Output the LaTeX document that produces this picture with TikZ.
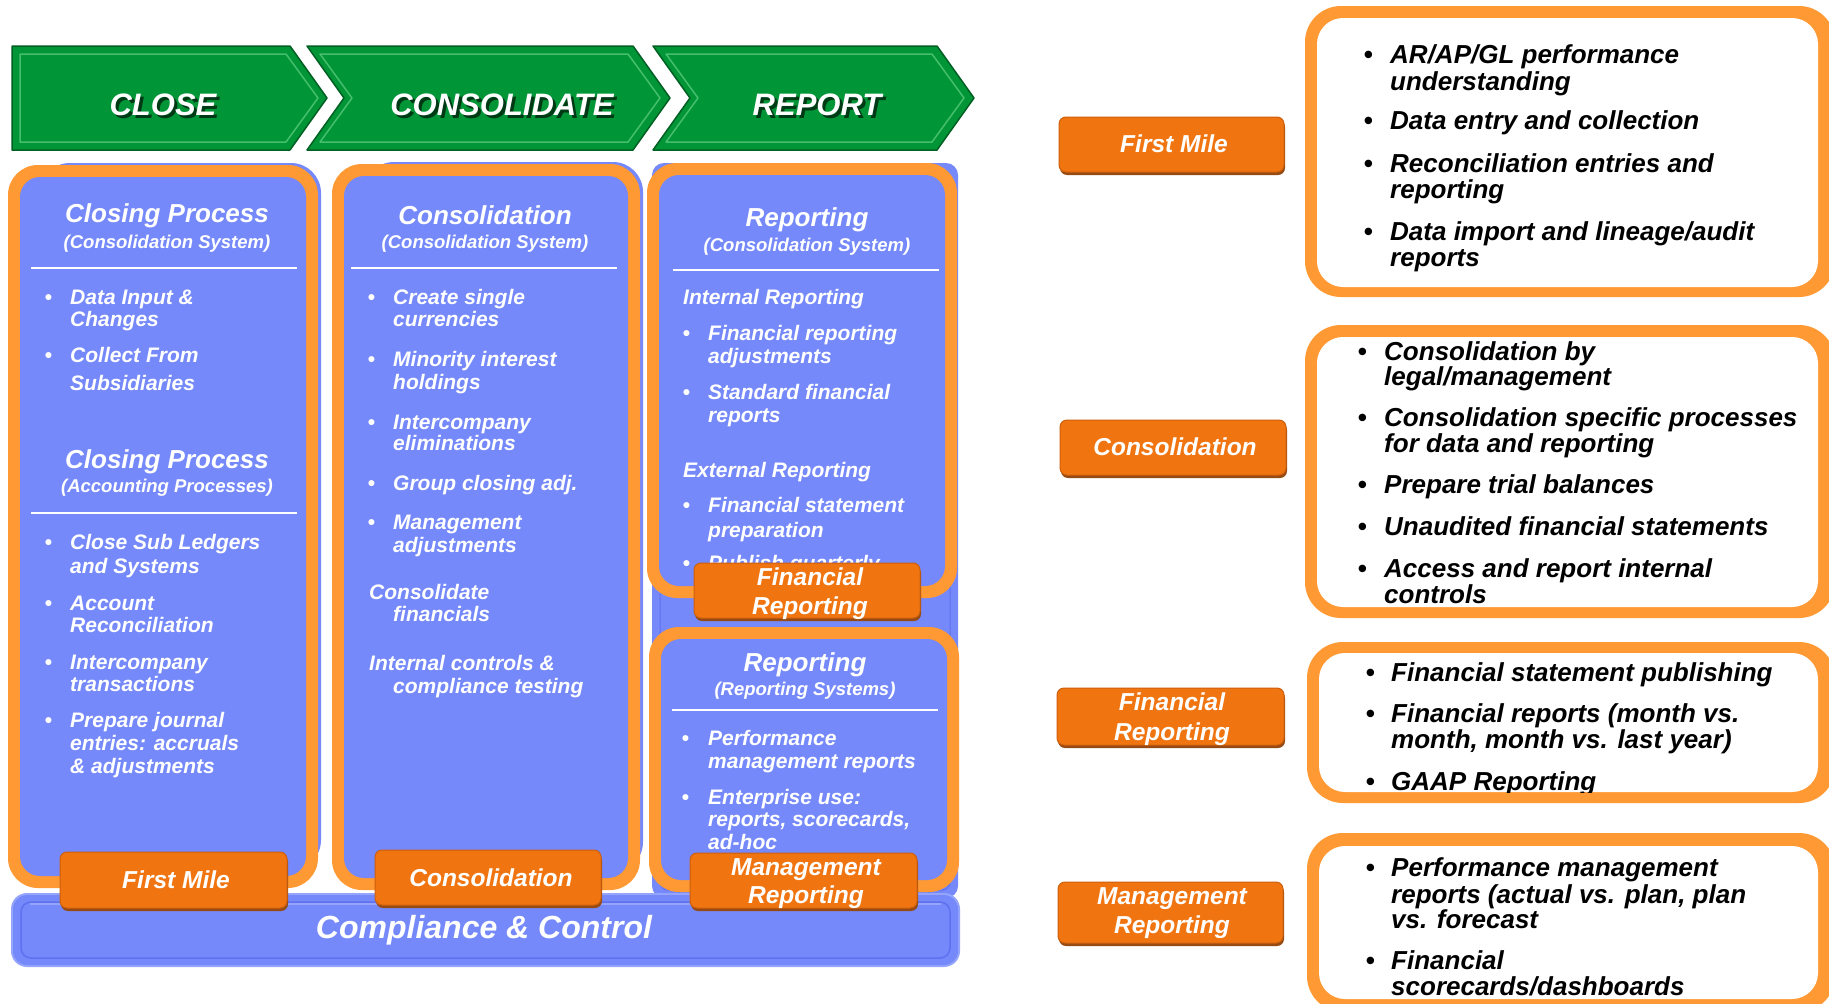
\documentclass[tikz,border=0pt]{standalone}
\usepackage{fontspec}
\setmainfont{Liberation Sans}
\definecolor{cblue}{RGB}{117,137,250}
\definecolor{cbluedark}{RGB}{95,113,238}
\definecolor{cbluelight}{RGB}{150,165,252}
\definecolor{corange}{RGB}{255,153,51}
\definecolor{ctab}{RGB}{240,117,17}
\definecolor{ctabedge}{RGB}{205,95,12}
\definecolor{ctabshadow}{RGB}{150,75,20}
\definecolor{cgreen}{RGB}{0,150,55}
\definecolor{cgreendark}{RGB}{0,95,35}
\definecolor{cgreenlight}{RGB}{70,190,110}
\tikzset{
 wt/.style={text=white, inner sep=0pt, anchor=base west, font=\bfseries\itshape\fontsize{21}{23}\selectfont},
 wtitle/.style={text=white, inner sep=0pt, anchor=base, font=\bfseries\itshape\fontsize{26}{28}\selectfont},
 wsub/.style={text=white, inner sep=0pt, anchor=base, font=\bfseries\itshape\fontsize{18.5}{20}\selectfont},
 bt/.style={text=black, inner sep=0pt, anchor=base west, font=\bfseries\itshape\fontsize{26}{28}\selectfont},
 tabtxt/.style={text=white, inner sep=0pt, anchor=base, font=\bfseries\itshape\fontsize{24.5}{26}\selectfont},
 chev/.style={text=white, inner sep=0pt, anchor=base, font=\bfseries\itshape\fontsize{31}{33}\selectfont},
 chevsh/.style={chev, text=cgreendark!60!black},
 sepline/.style={white, line width=2.5pt},
 oframe/.style={fill=corange, rounded corners=30pt},
 binner/.style={fill=cblue, rounded corners=20pt},
 rframe/.style={fill=corange, rounded corners=36pt},
 rinner/.style={fill=white, rounded corners=26pt},
 chevfill/.style={fill=cgreen, draw=cgreendark, line width=1.5pt, line join=round},
 chevbevel/.style={draw=cgreenlight, line width=1.5pt, line join=round},
}
\newcommand{\mytab}[4]{%
  \path[fill=ctabshadow, rounded corners=7pt] (#1+1,#2+3) rectangle (#3+1,#4+3);
  \path[fill=ctab, draw=ctabedge, line width=1pt, rounded corners=7pt] (#1,#2) rectangle (#3,#4);
}
\begin{document}
\begin{tikzpicture}[x=1pt,y=-1pt]
\useasboundingbox (0,0) rectangle (1829,1004);
\fill[white] (0,0) rectangle (1829,1004);

% ---------- chevrons ----------
\path[chevfill] (12,46) -- (290,46) -- (327,98) -- (290,150) -- (12,150) -- cycle;
\path[chevbevel] (20,54) -- (286,54) -- (318,98) -- (286,142) -- (20,142) -- cycle;
\path[chevfill] (307,46) -- (633,46) -- (670,98) -- (633,150) -- (307,150) -- (344,98) -- cycle;
\path[chevbevel] (320,54) -- (628,54) -- (660,98) -- (628,142) -- (320,142) -- (352,98) -- cycle;
\path[chevfill] (653,46) -- (937,46) -- (974,98) -- (937,150) -- (653,150) -- (690,98) -- cycle;
\path[chevbevel] (666,54) -- (932,54) -- (964,98) -- (932,142) -- (666,142) -- (698,98) -- cycle;
\node[chevsh] (closesh) at (166,118) {CLOSE};
\node[chev] (close) at (163,115) {CLOSE};
\node[chevsh] (conssh) at (505,118) {CONSOLIDATE};
\node[chev] (cons) at (502,115) {CONSOLIDATE};
\node[chevsh] (repsh) at (820,118) {REPORT};
\node[chev] (rep) at (817,115) {REPORT};

% ---------- blue shadows / backgrounds ----------
\fill[cblue, rounded corners=30pt] (40,163) rectangle (321,870);
\fill[cblue, rounded corners=30pt] (364,162) rectangle (643,872);
\fill[cblue, rounded corners=12pt] (652,163) rectangle (958,898);
\draw[cbluedark, line width=1pt, rounded corners=8pt] (660,171) rectangle (950,890);

% ---------- compliance bar ----------
\fill[cbluelight, rounded corners=16pt] (11,893) rectangle (960,967);
\fill[cblue, rounded corners=14pt] (13,895) rectangle (958,965);
\draw[cbluedark, line width=1.5pt, rounded corners=10pt] (21,902) rectangle (950,958);
\draw[cbluelight, line width=1.5pt] (30,904) -- (941,904);
\node[text=white, inner sep=0pt, anchor=base, font=\bfseries\itshape\fontsize{32}{34}\selectfont] (compl) at (484,938) {Compliance \& Control};

% ---------- column frames ----------
\path[oframe] (8,165) rectangle (318,888);
\path[binner] (20,177) rectangle (306,876);
\path[oframe] (332,164) rectangle (640,890);
\path[binner] (344,176) rectangle (628,878);
\path[oframe] (647,163) rectangle (957,598);
\path[binner] (659,175) rectangle (945,586);
\path[oframe] (649,627) rectangle (959,892);
\path[binner] (661,639) rectangle (947,880);

% ---------- column 1 ----------
\node[wtitle] (c1ti) at (167,222.5) {Closing Process};
\node[wsub] (c1su) at (167,248) {(Consolidation System)};
\draw[sepline] (31,268) -- (297,268);
\node[wtitle] (c1tib) at (167,468.5) {Closing Process};
\node[wsub] (c1sub) at (167,492) {(Accounting Processes)};
\draw[sepline] (31,513) -- (297,513);
\foreach \y [count=\i] in {297,355,542,603,662,720}
  \node[wt] (c1b\i) at (44.3,\y+7.5) {•};
\foreach \y/\t [count=\i] in {297/{Data Input \&},319/{Changes},355/{Collect From},383/{Subsidiaries},542/{Close Sub Ledgers},566/{and Systems},603/{Account},625/{Reconciliation},662/{Intercompany},684/{transactions},720/{Prepare journal},743/{entries: accruals},766/{\& adjustments}}
  \node[wt] (c1l\i) at (70,\y+7.5) {\t};

% ---------- column 2 ----------
\node[wtitle] (c2ti) at (485,224.5) {Consolidation};
\node[wsub] (c2su) at (485,248) {(Consolidation System)};
\draw[sepline] (351,268) -- (617,268);
\foreach \y [count=\i] in {297,359,422,483,522}
  \node[wt] (c2b\i) at (367.3,\y+7.5) {•};
\foreach \y/\t [count=\i] in {297/{Create single},319/{currencies},359/{Minority interest},382/{holdings},422/{Intercompany},443/{eliminations},483/{Group closing adj.},522/{Management},545/{adjustments}}
  \node[wt] (c2l\i) at (393,\y+7.5) {\t};
\node[wt] (c2m1) at (369,599.5) {Consolidate};
\node[wt] (c2m2) at (393,621.5) {financials};
\node[wt] (c2m3) at (369,670.5) {Internal controls \&};
\node[wt] (c2m4) at (393,693.5) {compliance testing};

% ---------- column 3 upper ----------
\node[wtitle] (c3ti) at (807,226.5) {Reporting};
\node[wsub] (c3su) at (807,251) {(Consolidation System)};
\draw[sepline] (673,270) -- (939,270);
\node[wt] (c3h1) at (683,304.5) {Internal Reporting};
\node[wt] (c3h2) at (683,477.5) {External Reporting};
\foreach \y [count=\i] in {333,392,505,563}
  \node[wt] (c3b\i) at (682.3,\y+7.5) {•};
\foreach \y/\t [count=\i] in {333/{Financial reporting},356/{adjustments},392/{Standard financial},415/{reports},505/{Financial statement},530/{preparation},563/{Publish quarterly}}
  \node[wt] (c3l\i) at (708,\y+7.5) {\t};

% ---------- column 3 lower ----------
\node[wtitle] (c4ti) at (805,671.5) {Reporting};
\node[wsub] (c4su) at (805,695) {(Reporting Systems)};
\draw[sepline] (672,710) -- (938,710);
\foreach \y [count=\i] in {738,797}
  \node[wt] (c4b\i) at (681.3,\y+7.5) {•};
\foreach \y/\t [count=\i] in {738/{Performance},761/{management reports},797/{Enterprise use:},819/{reports, scorecards,},842/{ad-hoc}}
  \node[wt] (c4l\i) at (708,\y+7.5) {\t};

% ---------- tabs on the columns ----------
\mytab{60}{852}{287}{908}
\node[tabtxt] (tfm) at (176,888) {First Mile};
\mytab{375}{850}{601}{905}
\node[tabtxt] (tco) at (491,886) {Consolidation};
\mytab{690}{853}{917}{908}
\node[tabtxt] (tmr1) at (806,875.5) {Management};
\node[tabtxt] (tmr2) at (806,903.5) {Reporting};
\mytab{694}{563}{920}{618}
\node[tabtxt] (tfr1) at (810,585.5) {Financial};
\node[tabtxt] (tfr2) at (810,614.5) {Reporting};

% ---------- right-side labels ----------
\mytab{1059}{117}{1284}{172}
\node[tabtxt] (rfm) at (1174,152.5) {First Mile};
\mytab{1060}{420}{1286}{475}
\node[tabtxt] (rco) at (1175,455.5) {Consolidation};
\mytab{1057}{688}{1284}{745}
\node[tabtxt] (rfr1) at (1172,710.5) {Financial};
\node[tabtxt] (rfr2) at (1172,740.5) {Reporting};
\mytab{1058}{882}{1283}{943}
\node[tabtxt] (rmr1) at (1172,904.5) {Management};
\node[tabtxt] (rmr2) at (1172,933.5) {Reporting};

% ---------- right-side boxes ----------
\path[rframe] (1305,6) rectangle (1835,297);
\path[rinner] (1317,18) rectangle (1818,287);
\foreach \y [count=\i] in {55,121,164,232}
  \node[bt] (r1b\i) at (1363.5,\y+8.5) {•};
\foreach \y/\t [count=\i] in {55/{AR/AP/GL performance},82/{understanding},121/{Data entry and collection},164/{Reconciliation entries and},190/{reporting},232/{Data import and lineage/audit},258/{reports}}
  \node[bt] (r1l\i) at (1390,\y+8.5) {\t};

\path[rframe] (1305,325) rectangle (1835,618);
\path[rinner] (1317,337) rectangle (1818,607);
\begin{scope}
\clip[rounded corners=26pt] (1317,337) rectangle (1818,607);
\foreach \y [count=\i] in {352,418,485,527,569}
  \node[bt] (r2b\i) at (1357.5,\y+8.5) {•};
\foreach \y/\t [count=\i] in {352/{Consolidation by},377/{legal/management},418/{Consolidation specific processes},444/{for data and reporting},485/{Prepare trial balances},527/{Unaudited financial statements},569/{Access and report internal},595/{controls}}
  \node[bt] (r2l\i) at (1384,\y+8.5) {\t};
\end{scope}

\path[rframe] (1307,642) rectangle (1835,803);
\path[rinner] (1319,653) rectangle (1818,792);
\begin{scope}
\clip[rounded corners=26pt] (1319,653) rectangle (1818,792);
\foreach \y [count=\i] in {673,714,782}
  \node[bt] (r3b\i) at (1365.5,\y+8.5) {•};
\foreach \y/\t [count=\i] in {673/{Financial statement publishing},714/{Financial reports (month vs.},740/{month, month vs. last year)},782/{GAAP Reporting}}
  \node[bt] (r3l\i) at (1391,\y+8.5) {\t};
\end{scope}

\path[rframe] (1307,833) rectangle (1835,1012);
\path[rinner] (1319,846) rectangle (1818,999);
\foreach \y [count=\i] in {868,961}
  \node[bt] (r4b\i) at (1365.5,\y+8.5) {•};
\foreach \y/\t [count=\i] in {868/{Performance management},895/{reports (actual vs. plan, plan},920/{vs. forecast},961/{Financial},987/{scorecards/dashboards}}
  \node[bt] (r4l\i) at (1391,\y+8.5) {\t};
\end{tikzpicture}
\end{document}
